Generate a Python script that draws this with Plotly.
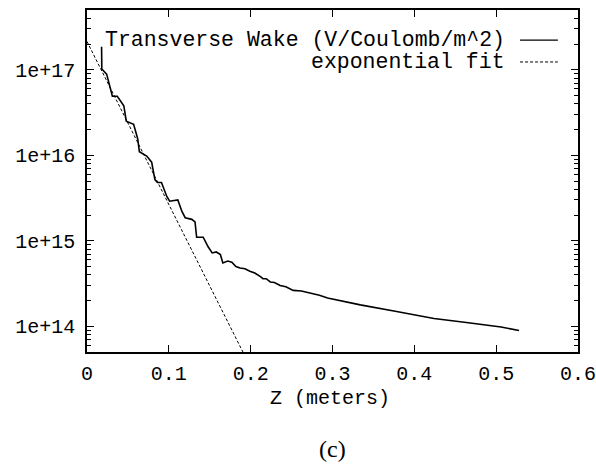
import plotly.graph_objects as go

# ---- data ----
z_wake = [0.0178, 0.0181, 0.024, 0.030, 0.031, 0.037, 0.045, 0.048, 0.057, 0.062,
          0.064, 0.073, 0.079, 0.083, 0.086, 0.091, 0.0975, 0.101, 0.106, 0.111,
          0.116, 0.120, 0.128, 0.132, 0.134, 0.142, 0.148, 0.153, 0.158, 0.163,
          0.166, 0.172, 0.177, 0.182, 0.187, 0.193, 0.199, 0.205, 0.212, 0.215,
          0.219, 0.224, 0.229, 0.236, 0.243, 0.252, 0.262, 0.273, 0.284, 0.294,
          0.334, 0.375, 0.408, 0.424, 0.466, 0.506, 0.528]
wake = [1.86e17, 1.02e17, 8.9e16, 5.6e16, 4.9e16, 4.9e16, 3.8e16, 2.5e16, 2.3e16, 1.55e16,
        1.10e16, 9.8e15, 8.3e15, 5.2e15, 4.8e15, 4.8e15, 3.3e15, 2.9e15, 2.95e15, 3.0e15,
        2.2e15, 1.86e15, 1.78e15, 1.66e15, 1.10e15, 1.10e15, 8.5e14, 7.2e14, 7.4e14, 6.9e14,
        5.5e14, 5.8e14, 5.6e14, 5.0e14, 4.8e14, 4.7e14, 4.4e14, 4.2e14, 3.8e14, 3.6e14,
        3.6e14, 3.3e14, 3.25e14, 3.0e14, 2.9e14, 2.63e14, 2.58e14, 2.45e14, 2.3e14, 2.14e14,
        1.78e14, 1.51e14, 1.32e14, 1.23e14, 1.10e14, 9.8e13, 8.9e13]

z_fit = [0.0, 0.2]
fit = [2.14e17, 3.3e13]

x_tickvals = [0, 0.1, 0.2, 0.3, 0.4, 0.5, 0.6]
x_ticktext = ["0", "0.1", "0.2", "0.3", "0.4", "0.5", "0.6"]
y_tickvals = [1e14, 1e15, 1e16, 1e17]
y_ticktext = ["1e+14", "1e+15", "1e+16", "1e+17"]

legend_labels = ["Transverse Wake (V/Coulomb/m^2)", "exponential fit"]
x_title = "Z (meters)"
caption = "(c)"

MONO = "Liberation Mono, DejaVu Sans Mono, monospace"
FS = 21.5
TFS = 20

fig = go.Figure()
fig.add_trace(go.Scatter(x=z_wake, y=wake, mode="lines",
                         line=dict(color="black", width=1.6), showlegend=False))
fig.add_trace(go.Scatter(x=z_fit, y=fit, mode="lines",
                         line=dict(color="black", width=1, dash="3px,2px"), showlegend=False))

axis_common = dict(showline=True, linecolor="black", linewidth=1.5, mirror="allticks",
                   ticks="inside", ticklen=7, tickcolor="black", tickwidth=1,
                   showgrid=False, zeroline=False, automargin=False,
                   tickfont=dict(family=MONO, size=TFS, color="black"))

fig.update_layout(
    width=596, height=466,
    margin=dict(l=87, r=18, t=10, b=114, autoexpand=False),
    paper_bgcolor="white", plot_bgcolor="white",
    showlegend=False,
    xaxis=dict(range=[0, 0.60001], tickvals=x_tickvals, ticktext=x_ticktext,
               ticklabeloverflow="allow", ticklabelstandoff=2, **axis_common),
    yaxis=dict(type="log", range=[13.699, 17.699], tickvals=y_tickvals, ticktext=y_ticktext,
               minor=dict(ticks="inside", ticklen=4, tickcolor="black", dtick="D1"),
               ticklabelstandoff=6, **axis_common),
)

# legend drawn gnuplot-style: text then line sample
leg_y = [0.912, 0.848]
for label, yy, dash in zip(legend_labels, leg_y, ["solid", "3px,2px"]):
    fig.add_annotation(x=0.855, y=yy, xref="paper", yref="paper", text=label,
                       showarrow=False, xanchor="right", yanchor="middle",
                       font=dict(family=MONO, size=FS, color="black"))
    fig.add_shape(type="line", xref="paper", yref="paper", x0=0.882, x1=0.959, y0=yy, y1=yy,
                  line=dict(color="black", width=1.4 if dash == "solid" else 1, dash=dash))

fig.add_annotation(x=0.495, y=-0.135, xref="paper", yref="paper", text=x_title,
                   showarrow=False, xanchor="center", yanchor="middle",
                   font=dict(family=MONO, size=TFS, color="black"))
fig.add_annotation(x=0.499, y=-0.284, xref="paper", yref="paper", text=caption,
                   showarrow=False, xanchor="center", yanchor="middle",
                   font=dict(family="Liberation Serif, serif", size=24, color="black"))

fig.write_html("out.html", config={"displayModeBar": False},
               post_script="document.body.style.margin='0';document.body.style.overflow='hidden';")
